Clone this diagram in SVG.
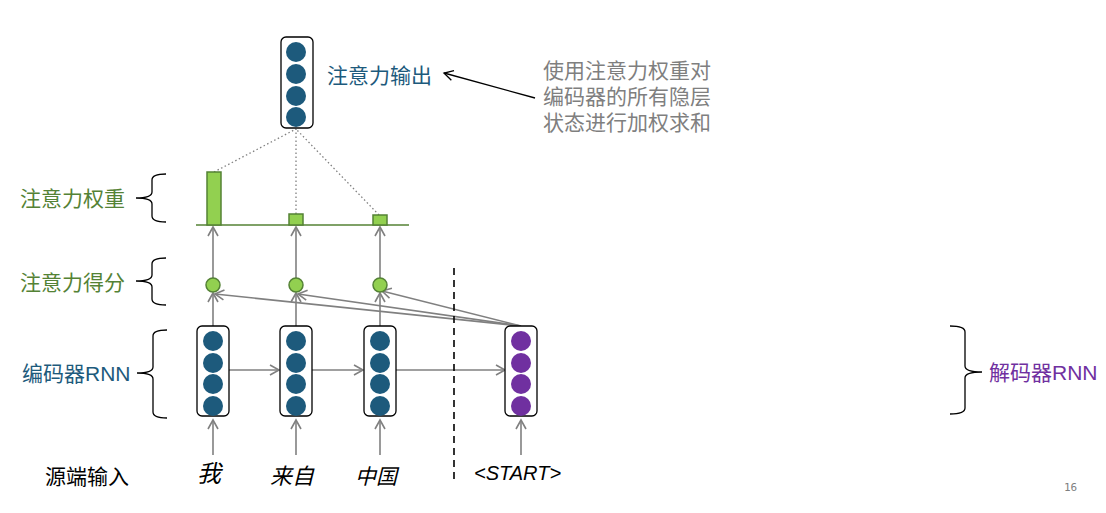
<svg xmlns="http://www.w3.org/2000/svg" width="1106" height="513" viewBox="0 0 1106 513">
<defs>
<style>
.cjk{font-family:"Liberation Sans","Noto Sans CJK SC",sans-serif;font-size:21px}
.it{font-style:italic;fill:#000}
.box{fill:#fff;stroke:#000;stroke-width:1.3}
.enc{fill:#1d5a7c}
.dec{fill:#7030a0}
.arr{stroke:#808080;stroke-width:1.6;fill:none;marker-end:url(#ga)}
.dot{stroke:#808080;stroke-width:1.3;stroke-dasharray:1.5 2.5;fill:none}
.bar{fill:#92d050;stroke:#548235;stroke-width:1.5}
.sc{fill:#92d050;stroke:#548235;stroke-width:1.5}
.brace{fill:none;stroke:#000;stroke-width:1.3}
</style>
<marker id="ga" markerUnits="userSpaceOnUse" markerWidth="14" markerHeight="14" refX="10" refY="6" orient="auto">
<path d="M1,1 L10,6 L1,11" fill="none" stroke="#808080" stroke-width="1.6"/>
</marker>
<marker id="ba" markerUnits="userSpaceOnUse" markerWidth="14" markerHeight="14" refX="10" refY="6" orient="auto">
<path d="M1,1 L10,6 L1,11" fill="none" stroke="#000" stroke-width="1.3"/>
</marker>
</defs>
<rect width="1106" height="513" fill="#fff"/>

<g id="connectors">
<line class="arr" x1="213" y1="455" x2="213" y2="420"/>
<line class="arr" x1="296" y1="455" x2="296" y2="420"/>
<line class="arr" x1="380" y1="455" x2="380" y2="420"/>
<line class="arr" x1="521" y1="455" x2="521" y2="420"/>
<line class="arr" x1="213" y1="326" x2="213" y2="293"/>
<line class="arr" x1="296" y1="326" x2="296" y2="293"/>
<line class="arr" x1="380" y1="326" x2="380" y2="293"/>
<line class="arr" x1="213" y1="278" x2="213" y2="227"/>
<line class="arr" x1="296" y1="278" x2="296" y2="227"/>
<line class="arr" x1="380" y1="278" x2="380" y2="227"/>
<line class="arr" x1="229" y1="370" x2="279" y2="370"/>
<line class="arr" x1="312" y1="370" x2="363" y2="370"/>
<line class="arr" x1="395" y1="370" x2="505" y2="370"/>
<line class="arr" x1="521" y1="326" x2="215" y2="294"/>
<line class="arr" x1="521" y1="326" x2="298" y2="294"/>
<line class="arr" x1="521" y1="326" x2="382" y2="291"/>
<line class="dot" x1="214" y1="172" x2="296" y2="129"/>
<line class="dot" x1="296" y1="214" x2="296" y2="129"/>
<line class="dot" x1="379" y1="215" x2="296" y2="129"/>
<line x1="535" y1="98" x2="444" y2="73" stroke="#000" stroke-width="1.3" marker-end="url(#ba)"/>
<line x1="454" y1="268" x2="454" y2="482" stroke="#000" stroke-width="1.6" stroke-dasharray="7 5"/>
</g>

<g id="output">
<rect class="box" x="281" y="37" width="32" height="91" rx="5"/>
<circle class="enc" cx="296" cy="52" r="10"/>
<circle class="enc" cx="296" cy="74" r="10"/>
<circle class="enc" cx="296" cy="96" r="10"/>
<circle class="enc" cx="296" cy="117" r="10"/>
<text class="cjk" x="327" y="83" fill="#1d5a7c">注意力输出</text>
</g>

<g id="annotation">
<text class="cjk" x="543" y="78" fill="#7f7f7f">使用注意力权重对</text>
<text class="cjk" x="543" y="104" fill="#7f7f7f">编码器的所有隐层</text>
<text class="cjk" x="543" y="130" fill="#7f7f7f">状态进行加权求和</text>
</g>

<g id="weights">
<line x1="196" y1="225" x2="409" y2="225" stroke="#548235" stroke-width="1.6"/>
<rect class="bar" x="207" y="172" width="14" height="53"/>
<rect class="bar" x="289" y="214" width="14" height="11"/>
<rect class="bar" x="373" y="215" width="14" height="10"/>
</g>

<g id="scores">
<circle class="sc" cx="213" cy="285" r="7"/>
<circle class="sc" cx="296" cy="285" r="7"/>
<circle class="sc" cx="380" cy="285" r="7"/>
</g>

<g id="enc1">
<rect class="box" x="197" y="326" width="32" height="90" rx="5"/>
<circle class="enc" cx="213" cy="341" r="10"/>
<circle class="enc" cx="213" cy="363" r="10"/>
<circle class="enc" cx="213" cy="384" r="10"/>
<circle class="enc" cx="213" cy="406" r="10"/>
</g>
<g id="enc2">
<rect class="box" x="280" y="326" width="32" height="90" rx="5"/>
<circle class="enc" cx="296" cy="341" r="10"/>
<circle class="enc" cx="296" cy="363" r="10"/>
<circle class="enc" cx="296" cy="384" r="10"/>
<circle class="enc" cx="296" cy="406" r="10"/>
</g>
<g id="enc3">
<rect class="box" x="364" y="326" width="32" height="90" rx="5"/>
<circle class="enc" cx="380" cy="341" r="10"/>
<circle class="enc" cx="380" cy="363" r="10"/>
<circle class="enc" cx="380" cy="384" r="10"/>
<circle class="enc" cx="380" cy="406" r="10"/>
</g>
<g id="dec">
<rect class="box" x="505" y="326" width="32" height="90" rx="5"/>
<circle class="dec" cx="521" cy="341" r="10"/>
<circle class="dec" cx="521" cy="363" r="10"/>
<circle class="dec" cx="521" cy="384" r="10"/>
<circle class="dec" cx="521" cy="406" r="10"/>
</g>

<g id="label-weights">
<text class="cjk" x="20" y="206" fill="#548235">注意力权重</text>
<path class="brace" d="M166,174 Q152,174 152,180 L152,192 Q152,198 136,198 Q152,198 152,204 L152,216 Q152,222 166,222"/>
</g>
<g id="label-scores">
<text class="cjk" x="20" y="290" fill="#548235">注意力得分</text>
<path class="brace" d="M166,258 Q152,258 152,264 L152,275 Q152,281 136,281 Q152,281 152,287 L152,299 Q152,305 166,305"/>
</g>
<g id="label-enc">
<text class="cjk" x="22" y="381" fill="#1d5a7c">编码器RNN</text>
<path class="brace" d="M167,330 Q153,330 153,336 L153,367 Q153,373 137,373 Q153,373 153,379 L153,412 Q153,418 167,418"/>
</g>
<g id="label-dec">
<text class="cjk" x="989" y="380" fill="#7030a0">解码器RNN</text>
<path class="brace" d="M950,326 Q965,326 965,332 L965,366 Q965,372 982,372 Q965,372 965,378 L965,408 Q965,414 950,414"/>
</g>

<g id="inputs">
<text class="cjk" x="45" y="484" fill="#000">源端输入</text>
<text class="cjk it" x="197" y="482" style="font-size:24px">我</text>
<text class="cjk it" x="270" y="484" style="font-size:22px">来自</text>
<text class="cjk it" x="355" y="484" style="font-size:21px">中国</text>
<text class="cjk it" x="474" y="480" style="font-size:20px">&lt;START&gt;</text>
</g>

<text x="1064" y="491" font-family="DejaVu Sans Mono, monospace" font-size="11" fill="#7f7f7f">16</text>
</svg>
